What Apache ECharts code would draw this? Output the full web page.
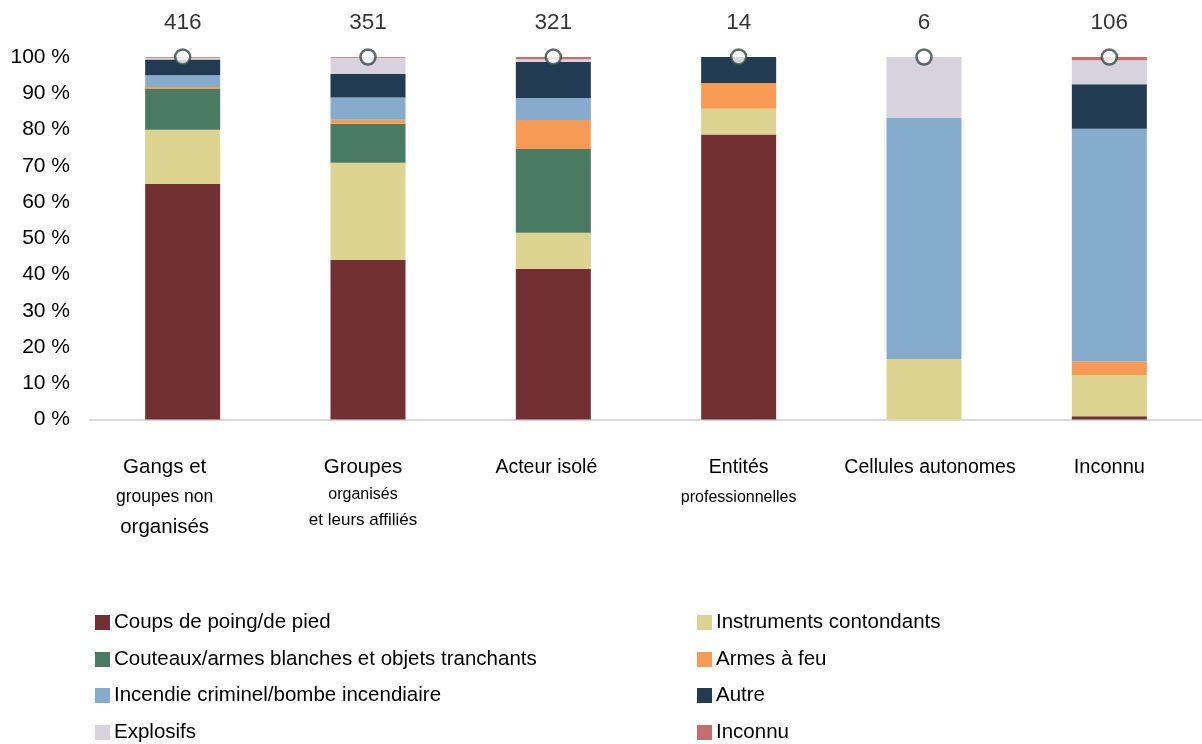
<!DOCTYPE html>
<html>
<head>
<meta charset="utf-8">
<script src="https://cdn.jsdelivr.net/npm/echarts@6/dist/echarts.min.js"></script>
<style>
html,body{margin:0;padding:0;background:#fff;}
#chart{width:1202px;height:744px;}
</style>
</head>
<body>
<div id="chart"></div>
<script>
// ---- Data ----
const categories = [
  'Gangs et\ngroupes non\norganisés',
  'Groupes\norganisés\net leurs affiliés',
  'Acteur isolé',
  'Entités\nprofessionnelles',
  'Cellules autonomes',
  'Inconnu'
];
const counts = [416, 351, 321, 14, 6, 106];
const yTicks = [0, 10, 20, 30, 40, 50, 60, 70, 80, 90, 100];

const seriesNames = [
  'Coups de poing/de pied',
  'Instruments contondants',
  'Couteaux/armes blanches et objets tranchants',
  'Armes à feu',
  'Incendie criminel/bombe incendiaire',
  'Autre',
  'Explosifs',
  'Inconnu'
];
const coups       = [65.0, 44.0, 41.5, 78.6, 0,    0.9];
const instruments = [14.9, 26.8, 10.0, 7.1,  16.7, 11.3];
const couteaux    = [11.3, 10.8, 23.1, 0,    0,    0];
const armes       = [0.5,  1.1,  8.0,  7.1,  0,    3.8];
const incendie    = [3.3,  6.1,  6.1,  0,    66.6, 64.2];
const autre       = [4.3,  6.6,  9.9,  7.2,  0,    12.3];
const explosifs   = [0.5,  4.4,  0.8,  0,    16.7, 6.6];
const inconnu     = [0.2,  0.2,  0.6,  0,    0,    0.9];
const seriesValues = [coups, instruments, couteaux, armes, incendie, autre, explosifs, inconnu];
const totalLine = [100, 100, 100, 100, 100, 100];

// ---- Styles ----
const colors = ['#733032', '#DDD390', '#497B63', '#F79B54', '#86ACCD', '#203B52', '#D8D2DD', '#C66D6E'];
const lineStyles = [
  ['big', 'med', 'big'],
  ['big', 'small', 'small2'],
  ['mid'],
  ['mid', 'xs'],
  ['mid'],
  ['lg']
];
// horizontal nudges of the category label blocks (px, + = right)
const labelShift = [-18, -5, -7, 0, 6, 0];
// legend grid: two columns, four rows (row-major order of series)
const legendCols = [95, 697];
const legendRowsTop = [612, 649, 685, 722];
const FONT = '"Liberation Sans", Arial, sans-serif';

const chart = echarts.init(document.getElementById('chart'));

const barSeries = seriesNames.map((name, i) => ({
  name: name,
  type: 'bar',
  stack: 'total',
  barWidth: 75,
  itemStyle: { color: colors[i] },
  emphasis: { disabled: true },
  data: seriesValues[i]
}));

const legendText = { fontSize: 20.5, color: '#000', fontFamily: FONT, lineHeight: 20, padding: [0, 0, 0, -1] };
const legends = seriesNames.map((name, i) => ({
  orient: 'horizontal',
  left: legendCols[i % 2],
  top: legendRowsTop[Math.floor(i / 2)],
  padding: 0,
  itemWidth: 15, itemHeight: 15, itemGap: 0,
  icon: 'rect',
  textStyle: legendText,
  selectedMode: false,
  data: [name]
}));

const catData = categories.map((c, i) => {
  const s = labelShift[i];
  const pad = s < 0 ? [0, -2 * s, 0, 0] : [0, 0, 0, 2 * s];
  return { value: c, textStyle: { padding: pad } };
});

chart.setOption({
  animation: false,
  textStyle: { fontFamily: FONT },
  grid: { left: 90, top: 57, width: 1117, height: 362.5 },
  legend: legends,
  xAxis: {
    type: 'category',
    data: catData,
    axisLine: { lineStyle: { color: '#d9d9d9', width: 2 } },
    axisTick: { show: false },
    axisLabel: {
      interval: 0,
      margin: 33,
      color: '#000',
      formatter: function (value, idx) {
        const lines = value.split('\n');
        return lines.map((l, k) => '{' + lineStyles[idx][k] + '|' + l + '}').join('\n');
      },
      rich: {
        big:    { fontSize: 20.5, lineHeight: 30, color: '#000', fontFamily: FONT },
        lg:     { fontSize: 20, lineHeight: 30, color: '#000', fontFamily: FONT },
        mid:    { fontSize: 19.5, lineHeight: 30, color: '#000', fontFamily: FONT },
        med:    { fontSize: 17.5, lineHeight: 30, color: '#000', fontFamily: FONT },
        small:  { fontSize: 16, lineHeight: 25, color: '#000', fontFamily: FONT },
        small2: { fontSize: 17, lineHeight: 25, color: '#000', fontFamily: FONT },
        xs:     { fontSize: 16, lineHeight: 30, color: '#000', fontFamily: FONT }
      }
    }
  },
  yAxis: {
    type: 'value',
    min: 0, max: 100, interval: 10,
    axisLine: { show: false },
    axisTick: { show: false },
    splitLine: { show: false },
    axisLabel: {
      margin: 20,
      fontSize: 21,
      color: '#000',
      formatter: function (v) { return yTicks.indexOf(v) >= 0 ? v + ' %' : ''; }
    }
  },
  series: barSeries.concat([{
    name: 'N',
    type: 'scatter',
    data: totalLine,
    symbol: 'circle',
    symbolSize: 15,
    z: 10,
    itemStyle: { color: '#fff', borderColor: '#2F4A3E', borderWidth: 2.5 },
    emphasis: { disabled: true },
    label: {
      show: true,
      position: 'top',
      distance: 14,
      fontSize: 22.5,
      color: '#000',
      formatter: function (p) { return String(counts[p.dataIndex]); }
    }
  }])
});
</script>
</body>
</html>
